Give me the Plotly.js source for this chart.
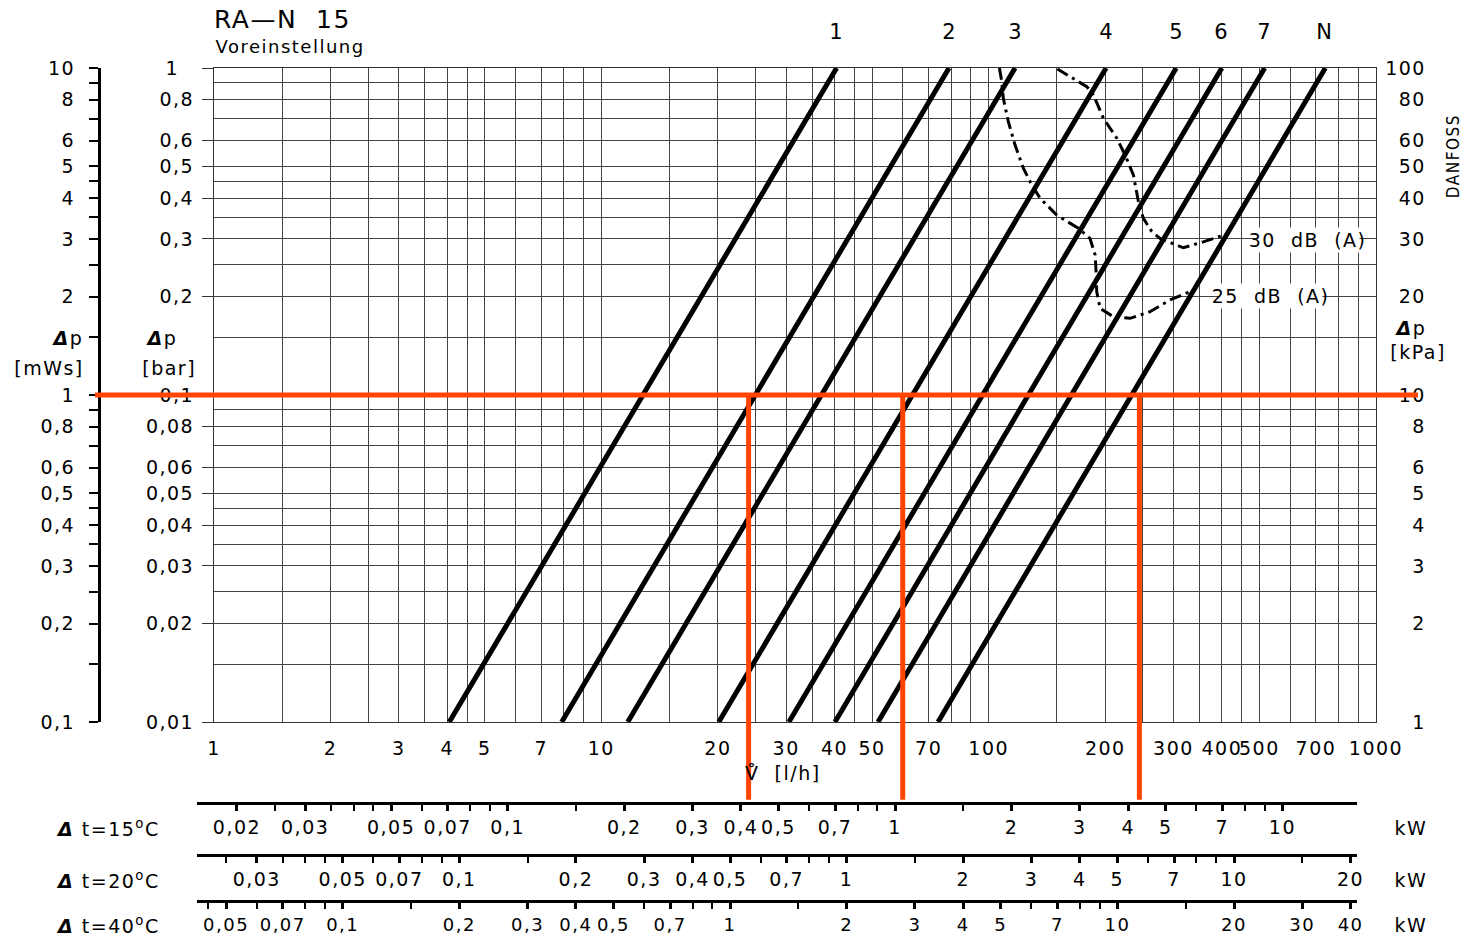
<!DOCTYPE html>
<html><head><meta charset="utf-8">
<script src="https://cdn.plot.ly/plotly-3.0.1.min.js"></script>
<style>
html,body{margin:0;padding:0;background:#fff;}
#chart{width:1466px;height:939px;}
#chart text{letter-spacing:1.5px;}
</style></head><body><div id="chart"></div>
<script>
// ---------- data ----------
const presets = ['1','2','3','4','5','6','7','N'];
const dpLow = 0.01, dpHigh = 1;                      // bar
const flowAtLow  = [4.05, 7.9, 11.7, 20.1, 30.5, 40.1, 51.8, 74];   // l/h at 0.01 bar
const flowAtHigh = [40.5, 79, 117, 201, 305, 400, 516, 740];        // l/h at 1 bar

const noise25Flow = [106.6,108.1,109.1,112.4,117,122.9,129.2,135.7,149.9,170.4,182.7,188.3,189.4,190.1,194,209.9,231.8,261,294,331];
const noise25Dp   = [1.0,0.908,0.808,0.685,0.581,0.494,0.439,0.40,0.355,0.3235,0.301,0.268,0.238,0.207,0.184,0.1736,0.1716,0.1798,0.1953,0.207];
const noise30Flow = [150.5,162.3,179.2,186.4,197.8,214.2,225,236.4,243.6,250.9,263.7,277,318,358,404];
const noise30Dp   = [0.993,0.941,0.877,0.827,0.702,0.610,0.542,0.471,0.39,0.347,0.316,0.301,0.282,0.294,0.308];

const redLevel = 0.1;               // bar
const redFlows = [24, 60, 245];     // l/h

const flowTickVals = [1,2,3,4,5,7,10,20,30,40,50,70,100,200,300,400,500,700,1000];
const flowTickText = ['1','2','3','4','5','7','10','20','30','40','50','70','100','200','300','400','500','700','1000'];
const flowGrid = [1,1.5,2,2.5,3,3.5,4,4.5,5,6,7,8,9,10,15,20,25,30,35,40,45,50,60,70,80,90,100,150,200,250,300,350,400,450,500,600,700,800,900,1000];

const barTickVals = [0.01,0.02,0.03,0.04,0.05,0.06,0.08,0.1,0.2,0.3,0.4,0.5,0.6,0.8,1];
const barTickText = ['0,01','0,02','0,03','0,04','0,05','0,06','0,08','0,1','0,2','0,3','0,4','0,5','0,6','0,8','1\u00a0\u00a0'];
const dpGrid = [0.01,0.015,0.02,0.025,0.03,0.035,0.04,0.045,0.05,0.06,0.07,0.08,0.09,0.1,0.15,0.2,0.25,0.3,0.35,0.4,0.45,0.5,0.6,0.7,0.8,0.9,1];

const mwsTickVals = [0.1,0.2,0.3,0.4,0.5,0.6,0.8,1,2,3,4,5,6,8,10];
const mwsTickText = ['0,1','0,2','0,3','0,4','0,5','0,6','0,8','1','2','3','4','5','6','8','10'];
const mwsMinor = [0.15,0.25,0.35,0.45,0.7,0.9,1.5,2.5,3.5,4.5,7,9];

const kpaTickVals = [1,2,3,4,5,6,8,10,20,30,40,50,60,80,100];
const kpaTickText = ['1','2','3','4','5','6','8','10','20','30','40','50','60','80','100'];

const kwTemps = [15, 20, 40];
const kwLabelVals = [
  [0.02,0.03,0.05,0.07,0.1,0.2,0.3,0.4,0.5,0.7,1,2,3,4,5,7,10],
  [0.03,0.05,0.07,0.1,0.2,0.3,0.4,0.5,0.7,1,2,3,4,5,7,10,20],
  [0.05,0.07,0.1,0.2,0.3,0.4,0.5,0.7,1,2,3,4,5,7,10,20,30,40]
];
const kwMinorVals = [
  [0.025,0.035,0.04,0.045,0.06,0.08,0.09,0.15,0.6,0.8,0.9,1.5,6,8,9],
  [0.025,0.035,0.04,0.045,0.06,0.08,0.09,0.15,0.6,0.8,0.9,1.5,6,8,9,15],
  [0.045,0.06,0.08,0.09,0.15,0.6,0.8,0.9,1.5,6,8,9,15]
];

// ---------- layout helpers ----------
const FONT = 'DejaVu Sans, sans-serif';
const fs = 19;
const xDom = [0.09185, 0.95259];
const yDom = [0.23239, 1];
const xRange = [0, 3], yRange = [-2, 0];
const kwDom = [0.07926, 0.93852];
const kwPos = [0.13732, 0.07629, 0.0223];
const commaFmt = v => String(v).replace('.', ',');

function logFlowAt(frac){ return xRange[0] + (frac - xDom[0]) / (xDom[1] - xDom[0]) * (xRange[1] - xRange[0]); }

const traces = [];
presets.forEach((p, i) => {
  traces.push({x:[flowAtLow[i], flowAtHigh[i]], y:[dpLow, dpHigh], mode:'lines',
    line:{color:'#000', width:5}, hoverinfo:'skip', xaxis:'x', yaxis:'y'});
});
traces.push({x:noise25Flow, y:noise25Dp, mode:'lines', line:{color:'#000', width:3, dash:'12px,5px,3px,5px'}, hoverinfo:'skip'});
traces.push({x:noise30Flow, y:noise30Dp, mode:'lines', line:{color:'#000', width:3, dash:'12px,5px,3px,5px'}, hoverinfo:'skip'});
// dummy traces so overlay axes exist
traces.push({x:[10], y:[1], xaxis:'x', yaxis:'y2', mode:'markers', marker:{opacity:0}, hoverinfo:'skip'});
traces.push({x:[10], y:[10], xaxis:'x', yaxis:'y3', mode:'markers', marker:{opacity:0}, hoverinfo:'skip'});
kwTemps.forEach((t, k) => {
  traces.push({x:[kwLabelVals[k][5]], y:[1], xaxis:'x'+(k+2), yaxis:'y5', mode:'markers', marker:{opacity:0}, hoverinfo:'skip'});
});

const layout = {
  width:1466, height:939,
  margin:{l:90, r:26, t:68, b:19},
  paper_bgcolor:'#fff', plot_bgcolor:'rgba(0,0,0,0)',
  showlegend:false, hovermode:false, dragmode:false,
  font:{family:FONT, size:fs, color:'#000'},
  title:{text:'RA\u2014N\u00a0\u00a015', x:214/1466, xref:'container', xanchor:'left',
         y:1-19/939, yref:'container', yanchor:'middle', font:{family:FONT, size:25, color:'#000'}},
  xaxis:{type:'log', domain:xDom, range:xRange, tickmode:'array', tickvals:flowTickVals, ticktext:flowTickText,
    tickangle:0, showgrid:true, gridcolor:'#444', gridwidth:1, zeroline:false,
    ticks:'outside', ticklen:4, tickcolor:'rgba(0,0,0,0)', ticklabelstandoff:5,
    showline:true, linecolor:'#333', linewidth:1, mirror:true,
    minor:{tickmode:'array', tickvals:flowGrid, showgrid:true, gridcolor:'#444', gridwidth:1, ticks:''},
    tickfont:{family:FONT, size:fs}},
  yaxis:{type:'log', domain:yDom, range:yRange, tickmode:'array', tickvals:barTickVals, ticktext:barTickText,
    showgrid:true, gridcolor:'#444', gridwidth:1, zeroline:false,
    ticks:'outside', ticklen:11, tickcolor:'#333', tickwidth:1, ticklabelstandoff:4,
    showline:true, linecolor:'#333', linewidth:1, mirror:true,
    minor:{tickmode:'array', tickvals:dpGrid, showgrid:true, gridcolor:'#444', gridwidth:1, ticks:''},
    tickfont:{family:FONT, size:fs}},
  yaxis2:{type:'log', overlaying:'y', anchor:'free', position:0.00667, side:'left', range:[-1, 1],
    tickmode:'array', tickvals:mwsTickVals, ticktext:mwsTickText, showgrid:false, zeroline:false,
    ticks:'outside', ticklen:9, tickwidth:2, tickcolor:'#000', ticklabelstandoff:10,
    showline:true, linecolor:'#000', linewidth:3,
    minor:{tickmode:'array', tickvals:mwsMinor, ticks:'outside', ticklen:9, tickwidth:2, tickcolor:'#000', showgrid:false},
    tickfont:{family:FONT, size:fs}},
  yaxis3:{type:'log', overlaying:'y', anchor:'free', position:0.9896, side:'left', range:[0, 2],
    tickmode:'array', tickvals:kpaTickVals, ticktext:kpaTickText, showgrid:false, zeroline:false,
    ticks:'', showline:false, ticklabelstandoff:0, tickfont:{family:FONT, size:fs}},
  yaxis5:{domain:[0,0.2], visible:false, showgrid:false, range:[0,2]},
  shapes:[], annotations:[]
};

kwTemps.forEach((t, k) => {
  const c = Math.log10(1.163 * t / 1000);
  const ax = {
    type:'log', domain:kwDom, anchor:'free', position:kwPos[k], side:'bottom',
    range:[logFlowAt(kwDom[0]) + c, logFlowAt(kwDom[1]) + c],
    tickmode:'array', tickvals:kwLabelVals[k], ticktext:kwLabelVals[k].map(commaFmt), tickangle:0,
    showgrid:false, zeroline:false, showline:true, linecolor:'#000', linewidth:3,
    ticks:'outside', ticklen:6, tickwidth:3, tickcolor:'#000', ticklabelstandoff:0,
    minor:{tickmode:'array', tickvals:kwMinorVals[k], ticks:'outside', ticklen:6, tickwidth:2, tickcolor:'#000', showgrid:false},
    tickfont:{family:FONT, size:k === 2 ? 18 : fs}
  };
  layout['xaxis'+(k+2)] = ax;
});

// red reading lines
const red = '#ff4500';
const redFrac = (Math.log10(redLevel) - yRange[0]) / (yRange[1] - yRange[0]);
layout.shapes.push({type:'line', xref:'paper', yref:'y', x0:0.0037, x1:0.9837, y0:redLevel, y1:redLevel,
  line:{color:red, width:5}, layer:'above'});
redFlows.forEach(f => {
  layout.shapes.push({type:'line', xref:'x', yref:'y domain', x0:f, x1:f, y0:redFrac, y1:-0.119,
    line:{color:red, width:5}, layer:'above'});
});

// annotations
const A = layout.annotations;
function ann(text, x, y, extra){
  A.push(Object.assign({text:text, xref:'paper', yref:'paper', x:x, y:y, showarrow:false,
    xanchor:'center', yanchor:'middle', font:{family:FONT, size:fs}}, extra||{}));
}
presets.forEach((p, i) => {
  A.push({text:p, xref:'x', yref:'paper', x:Math.log10(flowAtHigh[i]), y:1.0423, showarrow:false,
    xanchor:'center', yanchor:'middle', font:{family:FONT, size:21}});
});
ann('Voreinstellung', 0.0993, 1.0258, {xanchor:'left', font:{family:FONT, size:18}});
const dP = '<b><i>\u0394</i></b>p';
ann(dP, -0.0163, 0.6831);
ann('[mWs]', -0.0304, 0.6479);
ann(dP, 0.0526, 0.6831);
ann('[bar]', 0.0585, 0.6479);
ann(dP, 0.9778, 0.6948);
ann('[kPa]', 0.9837, 0.6667);
ann('V\u030A\u00a0\u00a0[l/h]', 0.5133, 0.1725);
ann('DANFOSS', 1.0096, 0.8967, {textangle:-90, font:{family:'Liberation Sans Narrow, DejaVu Sans Condensed, sans-serif', size:17}});
ann('30\u00a0\u00a0dB\u00a0\u00a0(A)', 0.9015, 0.7981, {bgcolor:'#fff', borderpad:1});
ann('25\u00a0\u00a0dB\u00a0\u00a0(A)', 0.8741, 0.7324, {bgcolor:'#fff', borderpad:1});
const rowY = [0.108, 0.04695, -0.0059];
kwTemps.forEach((t, k) => {
  ann('<b><i>\u0394</i></b>\u00a0t='+t+'<sup>o</sup>C', -0.0222, rowY[k], {xanchor:'left'});
  ann('kW', 0.9785, rowY[k]);
});

Plotly.newPlot('chart', traces, layout, {staticPlot:true, displayModeBar:false});
</script></body></html>
